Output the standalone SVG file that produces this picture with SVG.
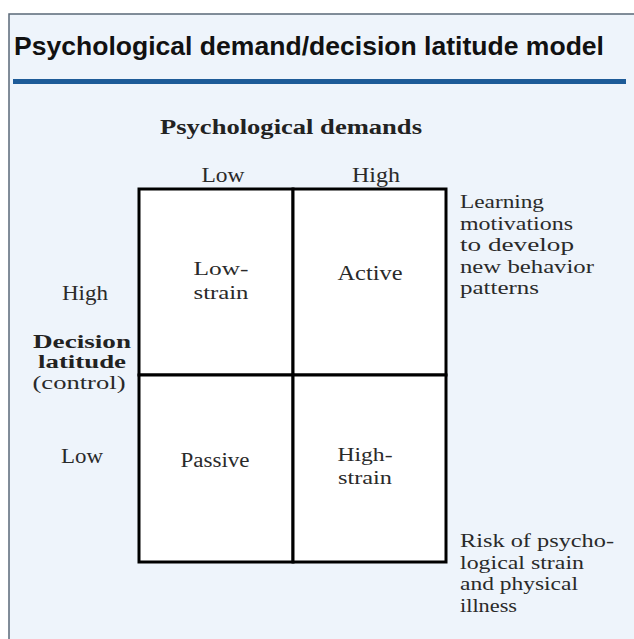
<svg xmlns="http://www.w3.org/2000/svg" width="634" height="639" viewBox="0 0 634 639">
  <style>
    .title { font-family: "Liberation Sans", Arial, sans-serif; font-weight: bold; font-size: 26px; fill: #111; }
    .t { font-family: "Liberation Serif", "Times New Roman", serif; font-size: 20px; fill: #2a2a2a; }
    .n { font-family: "Liberation Serif", "Times New Roman", serif; font-size: 19px; fill: #2a2a2a; }
    .b { font-family: "Liberation Serif", "Times New Roman", serif; font-size: 18px; font-weight: bold; fill: #222; }
    .h { font-family: "Liberation Serif", "Times New Roman", serif; font-size: 20px; font-weight: bold; fill: #222; }
    .c { text-anchor: middle; }
    .cell { fill: #ffffff; stroke: #000; stroke-width: 3; }
  </style>
  <rect x="0" y="0" width="634" height="639" fill="#ffffff"/>
  <rect id="frame" x="9" y="14" width="640" height="640" fill="#eef4fb" stroke="#5a6878" stroke-width="1.5"/>
  <text id="title" class="title" x="14" y="55" textLength="590" lengthAdjust="spacingAndGlyphs">Psychological demand/decision latitude model</text>
  <rect id="rule" x="13" y="79" width="613" height="5" fill="#1d5b98"/>

  <g id="axis-top">
    <text class="h c" x="291" y="134" textLength="262" lengthAdjust="spacingAndGlyphs">Psychological demands</text>
    <text class="t c" x="223" y="182" textLength="43" lengthAdjust="spacingAndGlyphs">Low</text>
    <text class="t c" x="376" y="182" textLength="48" lengthAdjust="spacingAndGlyphs">High</text>
  </g>

  <g id="axis-left">
    <text class="t c" x="85" y="300" textLength="46" lengthAdjust="spacingAndGlyphs">High</text>
    <text class="b c" x="82" y="348" textLength="98" lengthAdjust="spacingAndGlyphs">Decision</text>
    <text class="b c" x="82" y="368" textLength="88" lengthAdjust="spacingAndGlyphs">latitude</text>
    <text class="n c" x="79" y="389" textLength="93" lengthAdjust="spacingAndGlyphs">(control)</text>
    <text class="t c" x="82" y="463" textLength="42" lengthAdjust="spacingAndGlyphs">Low</text>
  </g>

  <g id="cell-low-strain">
    <rect class="cell" x="139" y="189" width="154" height="186"/>
    <text class="n c" x="221" y="275" textLength="55" lengthAdjust="spacingAndGlyphs">Low-</text>
    <text class="n c" x="221" y="299" textLength="55" lengthAdjust="spacingAndGlyphs">strain</text>
  </g>
  <g id="cell-active">
    <rect class="cell" x="293" y="189" width="153" height="186"/>
    <text class="t c" x="370" y="280" textLength="65" lengthAdjust="spacingAndGlyphs">Active</text>
  </g>
  <g id="cell-passive">
    <rect class="cell" x="139" y="375" width="154" height="187"/>
    <text class="t c" x="215" y="467" textLength="69" lengthAdjust="spacingAndGlyphs">Passive</text>
  </g>
  <g id="cell-high-strain">
    <rect class="cell" x="293" y="375" width="153" height="187"/>
    <text class="n c" x="365" y="461" textLength="55" lengthAdjust="spacingAndGlyphs">High-</text>
    <text class="n c" x="365" y="484" textLength="54" lengthAdjust="spacingAndGlyphs">strain</text>
  </g>

  <g id="note-top">
    <text class="n" x="460" y="208" textLength="84" lengthAdjust="spacingAndGlyphs">Learning</text>
    <text class="n" x="460" y="229.5" textLength="113" lengthAdjust="spacingAndGlyphs">motivations</text>
    <text class="n" x="460" y="251" textLength="114" lengthAdjust="spacingAndGlyphs">to develop</text>
    <text class="n" x="460" y="272.5" textLength="134" lengthAdjust="spacingAndGlyphs">new behavior</text>
    <text class="n" x="460" y="294" textLength="79" lengthAdjust="spacingAndGlyphs">patterns</text>
  </g>
  <g id="note-bottom">
    <text class="n" x="460" y="547" textLength="154" lengthAdjust="spacingAndGlyphs">Risk of psycho-</text>
    <text class="n" x="460" y="568.5" textLength="124" lengthAdjust="spacingAndGlyphs">logical strain</text>
    <text class="n" x="460" y="590" textLength="118" lengthAdjust="spacingAndGlyphs">and physical</text>
    <text class="n" x="460" y="611.5" textLength="57" lengthAdjust="spacingAndGlyphs">illness</text>
  </g>
</svg>
